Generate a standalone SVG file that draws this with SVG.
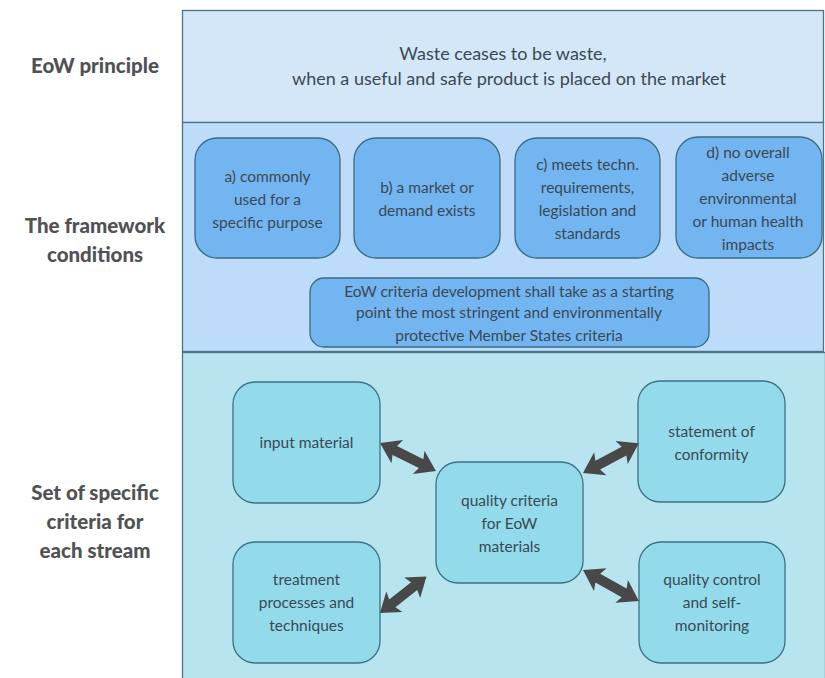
<svg xmlns="http://www.w3.org/2000/svg" width="825" height="678" viewBox="0 0 825 678">
<defs>
<style>
.lbl{font-family:Lato,"Open Sans",sans-serif;font-weight:900;font-size:20.5px;fill:#505254;text-anchor:middle}
.t{font-family:Lato,"Open Sans",sans-serif;font-size:15.5px;fill:#3a4954;text-anchor:middle}
.tt{font-family:Lato,"Open Sans",sans-serif;font-size:18px;fill:#3a4954;text-anchor:middle}
.bm{fill:#72b5f0;stroke:#3b6b80;stroke-width:1.3}
.bb{fill:#93dbeb;stroke:#3b7284;stroke-width:1.3}
.arr{fill:#484848}
</style>
<path id="dbl" d="M0,0 L21,-13 L18,-5 L50,-5 L47,-13 L68,0 L47,13 L50,5 L18,5 L21,13 Z"/>
</defs>
<rect width="825" height="678" fill="#ffffff"/>
<g id="panel-principle">
<rect x="182.5" y="10.5" width="641" height="112" fill="#d3e7f8" stroke="#4a7587" stroke-width="1.3"/>
<text class="tt" x="503" y="60">Waste ceases to be waste,</text>
<text class="tt" x="509" y="85">when a useful and safe product is placed on the market</text>
</g>
<g id="panel-framework">
<rect x="182.5" y="122.5" width="641" height="229" fill="#bcdcf9" stroke="#4a7587" stroke-width="1.3"/>
</g>
<g id="panel-criteria">
<rect x="182.5" y="352.5" width="643" height="327" fill="#b8e4ef" stroke="#4a7587" stroke-width="1.3"/>
</g>
<g id="label-principle"><text class="lbl" x="95" y="73">EoW principle</text></g>
<g id="label-framework"><text class="lbl" x="95" y="233">The framework</text><text class="lbl" x="95" y="262">conditions</text></g>
<g id="label-criteria"><text class="lbl" x="95" y="500">Set of specific</text><text class="lbl" x="95" y="529">criteria for</text><text class="lbl" x="95" y="558">each stream</text></g>
<g id="cond-a">
<rect class="bm" x="195" y="138" width="145" height="120" rx="22"/>
<text class="t" x="267.5" y="182">a) commonly</text>
<text class="t" x="267.5" y="205">used for a</text>
<text class="t" x="267.5" y="228">specific purpose</text>
</g>
<g id="cond-b">
<rect class="bm" x="354" y="138" width="146" height="120" rx="22"/>
<text class="t" x="427" y="193">b) a market or</text>
<text class="t" x="427" y="216">demand exists</text>
</g>
<g id="cond-c">
<rect class="bm" x="515" y="138" width="145" height="120" rx="22"/>
<text class="t" x="587.5" y="170">c) meets techn.</text>
<text class="t" x="587.5" y="193">requirements,</text>
<text class="t" x="587.5" y="216">legislation and</text>
<text class="t" x="587.5" y="239">standards</text>
</g>
<g id="cond-d">
<rect class="bm" x="676" y="137" width="146" height="121" rx="22"/>
<text class="t" x="748" y="158">d) no overall</text>
<text class="t" x="748" y="181">adverse</text>
<text class="t" x="748" y="204">environmental</text>
<text class="t" x="748" y="227">or human health</text>
<text class="t" x="748" y="250">impacts</text>
</g>
<g id="cond-ms">
<rect class="bm" x="310" y="278" width="399" height="69" rx="14"/>
<text class="t" x="509" y="297">EoW criteria development shall take as a starting</text>
<text class="t" x="509" y="318">point the most stringent and environmentally</text>
<text class="t" x="509" y="341">protective Member States criteria</text>
</g>
<g id="node-input">
<rect class="bb" x="233" y="382" width="147" height="121" rx="22"/>
<text class="t" x="306.5" y="448">input material</text>
</g>
<g id="node-treatment">
<rect class="bb" x="233" y="542" width="147" height="121" rx="22"/>
<text class="t" x="306.5" y="585">treatment</text>
<text class="t" x="306.5" y="608">processes and</text>
<text class="t" x="306.5" y="631">techniques</text>
</g>
<g id="node-quality">
<rect class="bb" x="436" y="462" width="147" height="121" rx="22"/>
<text class="t" x="509.5" y="506">quality criteria</text>
<text class="t" x="509.5" y="529">for EoW</text>
<text class="t" x="509.5" y="552">materials</text>
</g>
<g id="node-statement">
<rect class="bb" x="638" y="381" width="147" height="121" rx="22"/>
<text class="t" x="711.5" y="437">statement of</text>
<text class="t" x="711.5" y="460">conformity</text>
</g>
<g id="node-control">
<rect class="bb" x="639" y="542" width="146" height="121" rx="22"/>
<text class="t" x="712" y="585">quality control</text>
<text class="t" x="712" y="608">and self-</text>
<text class="t" x="712" y="631">monitoring</text>
</g>
<g id="connectors" class="arr">
<use href="#dbl" transform="translate(380,443) rotate(26.6) scale(0.92,1)"/>
<use href="#dbl" transform="translate(380,613) rotate(-38.2) scale(0.87,1)"/>
<use href="#dbl" transform="translate(583,473) rotate(-28) scale(0.93,1)"/>
<use href="#dbl" transform="translate(583,570) rotate(29) scale(0.94,1)"/>
</g>
</svg>
